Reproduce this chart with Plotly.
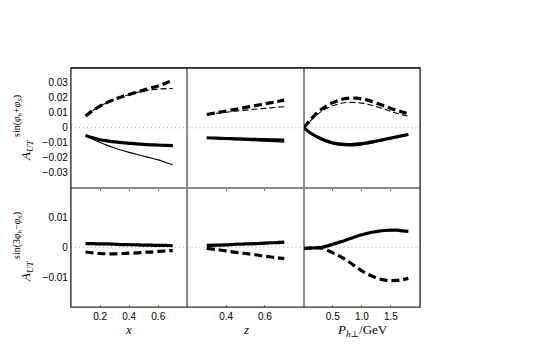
import plotly.graph_objects as go
from plotly.subplots import make_subplots

# x panel
x_vals = [0.1, 0.15, 0.2, 0.25, 0.3, 0.35, 0.4, 0.45, 0.5, 0.55, 0.6, 0.65, 0.7]
x_top_dash_thick = [0.0078, 0.0115, 0.0145, 0.017, 0.019, 0.0208, 0.0223, 0.0238, 0.0252, 0.0267, 0.028, 0.0298, 0.032]
x_top_dash_thin = [0.0078, 0.0115, 0.0145, 0.017, 0.019, 0.0207, 0.0221, 0.0235, 0.0246, 0.0254, 0.0259, 0.0262, 0.0263]
x_top_solid_thick = [-0.0052, -0.0068, -0.0080, -0.0088, -0.0095, -0.0100, -0.0104, -0.0108, -0.0111, -0.0114, -0.0116, -0.0118, -0.0119]
x_top_solid_thin = [-0.005, -0.0075, -0.0098, -0.0118, -0.0135, -0.0151, -0.0165, -0.0178, -0.019, -0.0203, -0.0215, -0.0232, -0.0248]
x_bot_solid = [0.0012, 0.0012, 0.0011, 0.0011, 0.001, 0.0009, 0.0009, 0.0008, 0.0007, 0.0007, 0.0006, 0.0006, 0.0005]
x_bot_dash = [-0.0016, -0.0019, -0.0021, -0.0022, -0.0022, -0.0021, -0.002, -0.0019, -0.0017, -0.0016, -0.0014, -0.0012, -0.0011]

# z panel
z_vals = [0.3, 0.35, 0.4, 0.45, 0.5, 0.55, 0.6, 0.65, 0.7]
z_top_dash_thick = [0.0089, 0.010, 0.0112, 0.0124, 0.0136, 0.0148, 0.016, 0.0172, 0.0185]
z_top_dash_thin = [0.0089, 0.0097, 0.0104, 0.0111, 0.0118, 0.0124, 0.013, 0.0136, 0.0141]
z_top_solid_thick = [-0.0067, -0.0070, -0.0072, -0.0074, -0.0076, -0.0078, -0.0080, -0.0081, -0.0083]
z_top_solid_thin = [-0.0068, -0.0072, -0.0076, -0.0080, -0.0084, -0.0087, -0.0090, -0.0093, -0.0096]
z_bot_solid = [0.0006, 0.0007, 0.0008, 0.001, 0.0011, 0.0012, 0.0014, 0.0015, 0.0017]
z_bot_dash = [-0.0004, -0.0008, -0.0012, -0.0017, -0.0021, -0.0025, -0.003, -0.0034, -0.0038]

# P_h_perp panel
p_vals = [0.0, 0.1, 0.2, 0.3, 0.4, 0.5, 0.6, 0.7, 0.8, 0.9, 1.0, 1.1, 1.2, 1.3, 1.4, 1.5, 1.6, 1.7, 1.8]
p_top_dash_thick = [0, 0.0045, 0.0088, 0.0122, 0.0148, 0.0168, 0.0183, 0.0194, 0.0199, 0.0198, 0.0193, 0.0185, 0.0172, 0.0158, 0.0144, 0.0129, 0.0116, 0.0105, 0.0094]
p_top_dash_thin = [0, 0.004, 0.0078, 0.0108, 0.013, 0.0147, 0.0159, 0.0167, 0.0170, 0.0169, 0.0165, 0.0157, 0.0147, 0.0135, 0.0122, 0.0109, 0.0097, 0.0086, 0.0077]
p_top_solid_thick = [0, -0.0030, -0.0055, -0.0074, -0.0089, -0.0100, -0.0107, -0.0111, -0.0112, -0.0110, -0.0106, -0.0100, -0.0093, -0.0085, -0.0077, -0.0069, -0.0061, -0.0053, -0.0045]
p_top_solid_thin = [0, -0.0032, -0.0059, -0.008, -0.0097, -0.0109, -0.0117, -0.0121, -0.0122, -0.0120, -0.0115, -0.0108, -0.0100, -0.0091, -0.0082, -0.0073, -0.0064, -0.0056, -0.0048]
p_bot_solid = [-0.0004, -0.0003, -0.0002, -0.0001, 0.0004, 0.001, 0.0016, 0.0022, 0.0029, 0.0036, 0.0042, 0.0047, 0.0051, 0.0054, 0.0056, 0.0057, 0.0057, 0.0055, 0.0053]
p_bot_dash = [-0.0005, -0.0003, -0.0001, -0.0002, -0.0010, -0.0018, -0.0028, -0.0039, -0.0052, -0.0066, -0.0079, -0.0090, -0.0099, -0.0106, -0.0110, -0.0112, -0.0111, -0.0108, -0.0104]

top_ticks = [-0.03, -0.02, -0.01, 0, 0.01, 0.02, 0.03]
top_ticktext = ["−0.03", "−0.02", "−0.01", "0", "0.01", "0.02", "0.03"]
bot_ticks = [-0.01, 0, 0.01]
bot_ticktext = ["−0.01", "0", "0.01"]
x_ticks = [0.2, 0.4, 0.6]
z_ticks = [0.4, 0.6]
p_ticks = [0.5, 1.0, 1.5]
p_ticktext = ["0.5", "1.0", "1.5"]

L, R, T, B = 71, 126, 68, 44
W, H = 546, 351
PW, PH = W - L - R, H - T - B

def px(xp):
    return (xp - L) / PW

def py(yp):
    return (H - B - yp) / PH

fig = make_subplots(rows=2, cols=3, shared_xaxes=True, shared_yaxes=True,
                    horizontal_spacing=0, vertical_spacing=0)

THICK = 3.2
THIN = 1.1

def add(xs, ys, row, col, width, dash):
    fig.add_trace(go.Scatter(x=xs, y=ys, mode="lines", line_shape="spline",
                             line=dict(color="black", width=width, dash=dash),
                             showlegend=False, hoverinfo="skip"), row=row, col=col)

panels = [
    (x_vals, x_top_dash_thin, x_top_dash_thick, x_top_solid_thin, x_top_solid_thick, x_bot_solid, x_bot_dash),
    (z_vals, z_top_dash_thin, z_top_dash_thick, z_top_solid_thin, z_top_solid_thick, z_bot_solid, z_bot_dash),
    (p_vals, p_top_dash_thin, p_top_dash_thick, p_top_solid_thin, p_top_solid_thick, p_bot_solid, p_bot_dash),
]
for c, (xs, dthin, dthick, sthin, sthick, bsolid, bdash) in enumerate(panels, start=1):
    add(xs, dthin, 1, c, THIN, "6px,3px")
    add(xs, dthick, 1, c, THICK, "8px,4px")
    add(xs, sthin, 1, c, THIN, "solid")
    add(xs, sthick, 1, c, THICK, "solid")
    add(xs, bsolid, 2, c, THICK, "solid")
    add(xs, bdash, 2, c, THICK, "8px,4px")
    for r in (1, 2):
        fig.add_hline(y=0, row=r, col=c, line=dict(color="#aaaaaa", width=1, dash="1px,3px"), layer="below")

axis_common = dict(showline=True, linecolor="#8a8a8a", linewidth=1.2, mirror=True,
                   showgrid=False, zeroline=False,
                   tickfont=dict(family="Liberation Sans, Arial", size=10, color="black"))

fig.update_xaxes(**axis_common)
fig.update_yaxes(**axis_common)

fig.update_xaxes(range=[0, 0.8], tickvals=x_ticks, col=1)
fig.update_xaxes(range=[0.2, 0.8], tickvals=z_ticks, col=2)
fig.update_xaxes(range=[0, 2], tickvals=p_ticks, ticktext=p_ticktext, col=3)
fig.update_xaxes(ticks="outside", ticklen=2, tickcolor="#777", row=1)
fig.update_xaxes(ticks="inside", ticklen=2, tickcolor="#777", row=2)
fig.update_yaxes(range=[-0.04, 0.04], tickvals=top_ticks, ticktext=top_ticktext, ticks="", row=1)
fig.update_yaxes(range=[-0.02, 0.02], tickvals=bot_ticks, ticktext=bot_ticktext, ticks="", row=2)

# darker outer frame
fig.add_shape(type="rect", xref="paper", yref="paper", x0=0, y0=0, x1=1, y1=1,
              line=dict(color="#333333", width=1.2), layer="above")
fig.add_shape(type="line", xref="paper", yref="paper", x0=0, y0=1, x1=1, y1=1,
              line=dict(color="black", width=1.2), layer="above")

title_font = dict(family="Liberation Serif, DejaVu Serif", size=13, color="black")
sup_font = dict(family="Liberation Serif, DejaVu Serif", size=10, color="black")

def label(text, x, y, font, angle=0):
    fig.add_annotation(text=text, xref="paper", yref="paper", x=px(x), y=py(y),
                       xanchor="center", yanchor="middle", textangle=angle,
                       showarrow=False, font=font)

label("<i>x</i>", 128, 329, title_font)
label("<i>z</i>", 246, 329, title_font)
label("<i>P</i><sub><i>h</i>⊥</sub>/GeV", 362, 330, title_font)

# y labels: base A_UT and the superscript stacked above it
label("<i>A</i><sub><i>UT</i></sub>", 26, 150, title_font, -90)
label("sin(<i>φ</i><sub><i>h</i></sub>+<i>φ</i><sub><i>S</i></sub>)", 17, 116, sup_font, -90)
label("<i>A</i><sub><i>UT</i></sub>", 26, 271, title_font, -90)
label("sin(3<i>φ</i><sub><i>h</i></sub>−<i>φ</i><sub><i>S</i></sub>)", 17, 236, sup_font, -90)

fig.update_layout(width=W, height=H, margin=dict(l=L, r=R, t=T, b=B),
                  plot_bgcolor="white", paper_bgcolor="white")

fig.write_html("out.html", config={"displayModeBar": False},
               post_script="document.body.style.margin='0';")
